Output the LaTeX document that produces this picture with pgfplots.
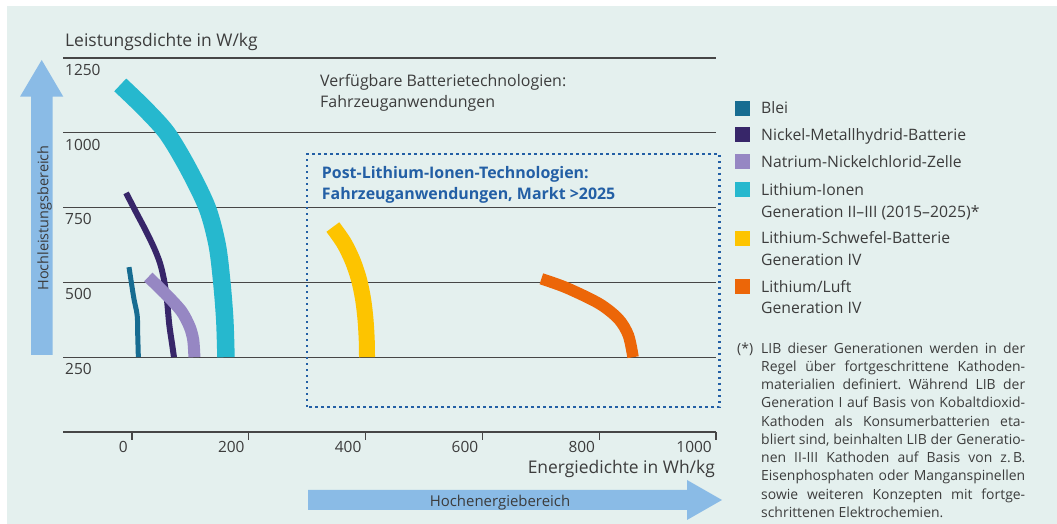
\documentclass[border=0pt]{standalone}
\usepackage{pgfplots}
\pgfplotsset{compat=1.18}
\usepackage{fontspec}
\setmainfont{Open Sans}
\definecolor{bg}{RGB}{228,240,238}
\definecolor{blei}{RGB}{23,108,145}
\definecolor{nimh}{RGB}{55,38,105}
\definecolor{nanicl}{RGB}{150,135,195}
\definecolor{liion}{RGB}{38,184,206}
\definecolor{lis}{RGB}{253,196,0}
\definecolor{luft}{RGB}{236,102,8}
\definecolor{arrowblue}{RGB}{138,187,230}
\definecolor{boxblue}{RGB}{35,95,165}
\definecolor{txt}{RGB}{60,60,60}
\definecolor{gridc}{RGB}{70,70,70}
\newcommand\jl[1]{\hbox to 264bp{#1}}
\begin{document}
\begin{tikzpicture}[x=1bp,y=1bp]
\path[use as bounding box] (0,0) rectangle (1057,524);
\fill[bg] (7,0) rectangle (1057,518);
% arrows
\fill[arrowblue] (31,169) -- (31,427.3) -- (20,427.3) -- (41.7,464) -- (63.3,427.3) -- (52.7,427.3) -- (52.7,169) -- cycle;
\node[rotate=90, anchor=base, inner sep=0, text=txt, font=\fontsize{14.5}{17}\selectfont] at (48.3,306) {Hochleistungsbereich};
\fill[arrowblue] (308,14) -- (687,14) -- (687,4) -- (722,24) -- (687,44) -- (687,34) -- (308,34) -- cycle;
\node[anchor=base, inner sep=0, text=txt, font=\fontsize{15}{17}\selectfont] at (500,17.5) {Hochenergiebereich};
\begin{axis}[
  at={(63bp,92bp)}, anchor=south west, scale only axis,
  width=653bp, height=374bp,
  xmin=-118, xmax=1000, ymin=0, ymax=1250,
  clip=false,
  axis x line*=bottom, axis y line*=left,
  y axis line style={draw=none},
  x axis line style={-, line width=1.3bp, draw=gridc},
  xtick={0,200,...,1000}, ytick={250,500,...,1250},
  ymajorgrids, grid style={line width=1.3bp, gridc},
  tick align=outside, major tick length=8bp,
  xtick style={line width=1.3bp, gridc},
  ytick style={draw=none},
  ticklabel style={font=\fontsize{15.5}{18}\selectfont, text=txt},
  /pgf/number format/assume math mode=true,
  /pgf/number format/1000 sep={},
  yticklabel style={anchor=north west, inner sep=0pt, xshift=10bp, yshift=-6bp},
  xticklabel style={anchor=north east, inner sep=0pt, xshift=-4bp, yshift=-1bp},
]
% Blei
\addplot[blei, line width=5bp, smooth] coordinates {(-5,551) (3,450) (9,390) (10,320) (11,250)};
% NiMH
\addplot[nimh, line width=6bp, smooth] coordinates {(-10,799) (7,735) (24,672) (38,615) (48,565) (55,508) (60,441) (64,358) (69,291) (72,250)};
% NaNiCl
\addplot[nanicl, line width=12bp, smooth] coordinates {(28,518) (60,457) (85,403) (99,351) (105,307) (107,250)};
% Li-Ionen
\addplot[liion, line width=17.5bp, smooth] coordinates {(-20,1160) (21,1083) (60,999) (96,882) (129,749) (146,625) (154,498) (159,374) (161,250)};
% Li-S
\addplot[lis, line width=16bp, smooth] coordinates {(344,685) (363,632) (378,572) (389,508) (396,441) (400,374) (402,308) (402.5,250)};
% Li/Luft
\addplot[luft, line width=11.5bp, smooth] coordinates {(701,512) (744,482) (800,429) (833,378) (850,323) (858,250)};
\draw[boxblue, line width=2.3bp, dash pattern=on 2.2bp off 3.8bp] (axis cs:300,84) rectangle (axis cs:1006,929);
\end{axis}
% titles
\node[anchor=base west, inner sep=0, text=txt, font=\fontsize{17.5}{20}\selectfont] at (65,477.3) {Leistungsdichte in W/kg};
\node[anchor=base east, inner sep=0, text=txt, font=\fontsize{17.5}{20}\selectfont] at (715,50.7) {Energiedichte in Wh/kg};
\node[anchor=base west, inner sep=0, text=txt, font=\fontsize{16}{20}\selectfont] at (320,437.3) {Verfügbare Batterietechnologien:};
\node[anchor=base west, inner sep=0, text=txt, font=\fontsize{16}{20}\selectfont] at (320,416.7) {Fahrzeuganwendungen};
\node[anchor=base west, inner sep=0, text=boxblue, font=\fontsize{16}{20}\selectfont\bfseries] at (321.7,345.7) {Post-Lithium-Ionen-Technologien:};
\node[anchor=base west, inner sep=0, text=boxblue, font=\fontsize{16}{20}\selectfont\bfseries] at (321.7,324.7) {Fahrzeuganwendungen, Markt >2025};
% legend
\fill[blei] (735,408.2) rectangle (750,423.2);
\fill[nimh] (735,381.5) rectangle (750,396.5);
\fill[nanicl] (735,354.8) rectangle (750,369.8);
\fill[liion] (735,326.5) rectangle (750,341.5);
\fill[lis] (735,278.2) rectangle (750,293.2);
\fill[luft] (735,229.8) rectangle (750,244.8);
\begin{scope}[every node/.style={anchor=base west, inner sep=0, text=txt, font=\fontsize{15.8}{20}\selectfont}]
\node at (761,410.1) {Blei};
\node at (761,383.4) {Nickel-Metallhydrid-Batterie};
\node at (761,356.7) {Natrium-Nickelchlorid-Zelle};
\node at (761,328.4) {Lithium-Ionen};
\node at (761,306.7) {Generation II–III (2015–2025)*};
\node at (761,280.1) {Lithium-Schwefel-Batterie};
\node at (761,258.4) {Generation IV};
\node at (761,231.7) {Lithium/Luft};
\node at (761,210.0) {Generation IV};
\end{scope}
% footnote
\node[anchor=base west, inner sep=0, text=txt, font=\fontsize{14}{18.3}\selectfont] at (737,170.7) {(*)};
\node[anchor=base west, inner sep=0, text=txt] at (761,170.7) {\parbox[t]{264bp}{\fontsize{14}{18.3}\selectfont
\jl{LIB\hfill dieser\hfill Generationen\hfill werden\hfill in\hfill der}
\jl{Regel\hfill über\hfill fortgeschrittene\hfill Kathoden-}
\jl{materialien\hfill definiert.\hfill Während\hfill LIB\hfill der}
\jl{Generation\hfill I\hfill auf\hfill Basis\hfill von\hfill Kobaltdioxid-}
\jl{Kathoden\hfill als\hfill Konsumerbatterien\hfill eta-}
\jl{bliert\hfill sind,\hfill beinhalten\hfill LIB\hfill der\hfill Generatio-}
\jl{nen\hfill II-III\hfill Kathoden\hfill auf\hfill Basis\hfill von\hfill z.\,B.}
\jl{Eisenphosphaten\hfill oder\hfill Manganspinellen}
\jl{sowie\hfill weiteren\hfill Konzepten\hfill mit\hfill fortge-}
\hbox{schrittenen Elektrochemien.}}};
\end{tikzpicture}
\end{document}
